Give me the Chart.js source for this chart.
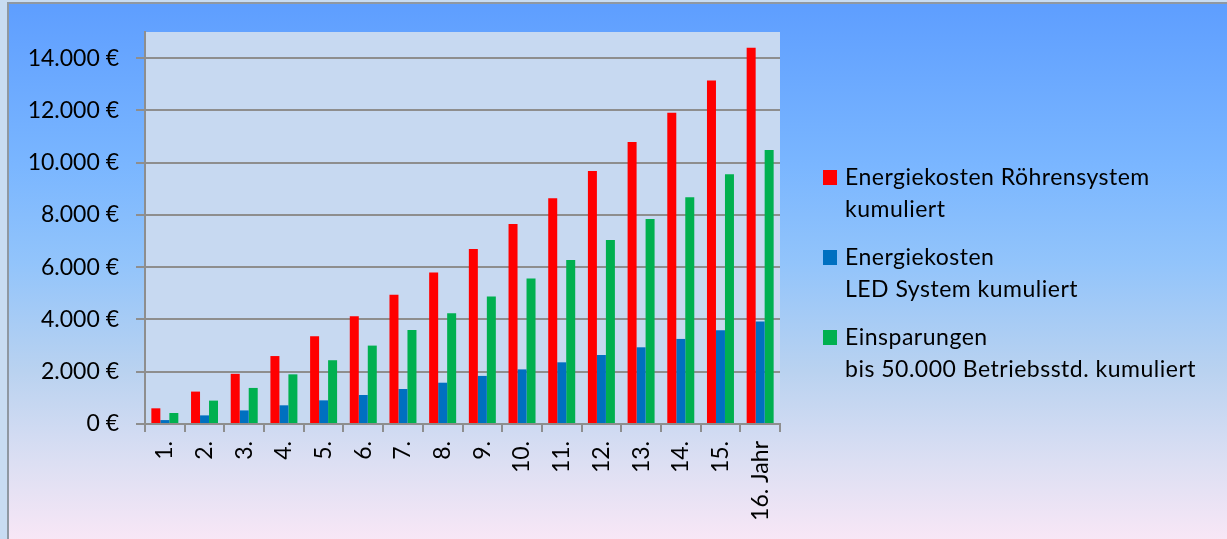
<!DOCTYPE html>
<html lang="de">
<head>
<meta charset="utf-8">
<script src="https://cdn.jsdelivr.net/npm/chart.js@4/dist/chart.umd.min.js"></script>
<style>
  html, body { margin: 0; padding: 0; width: 1227px; height: 539px; overflow: hidden; }
  body { background: #c8dcf2; position: relative; font-family: Lato, "Open Sans", sans-serif; }
  #frame {
    position: absolute; left: 7px; top: 2px; right: 0; bottom: -4px;
    border-top: 2px solid #8f98a2; border-left: 2px solid #8f98a2;
    background: linear-gradient(to bottom, #5e9eff 0%, #7ab6ff 30%, #92c4fb 48%, #b9d2f0 68%, #dcdff3 85%, #f9e7f6 100%);
  }
  #wrap { position: absolute; left: 0; top: 0; width: 1227px; height: 539px; }
  #legend { position: absolute; left: 823px; top: 160px; color: #000; font-size: 23px; letter-spacing: 0.5px; line-height: 32px; }
  .item { display: flex; align-items: flex-start; margin-bottom: 16px; }
  .swatch { width: 14px; height: 15px; margin-top: 10px; margin-right: 8px; flex: none; }
</style>
</head>
<body>
<div id="frame"></div>
<div id="wrap"><canvas id="chart" width="1227" height="539"></canvas></div>
<div id="legend"></div>
<script>
const categories = ["1.", "2.", "3.", "4.", "5.", "6.", "7.", "8.", "9.", "10.", "11.", "12.", "13.", "14.", "15.", "16. Jahr"];
const roehrenKosten = [600, 1240, 1920, 2600, 3360, 4120, 4950, 5800, 6700, 7650, 8640, 9680, 10790, 11910, 13140, 14400];
const ledKosten = [150, 330, 520, 715, 905, 1110, 1340, 1580, 1840, 2090, 2360, 2640, 2935, 3255, 3585, 3920];
const einsparungen = [420, 895, 1380, 1900, 2440, 3000, 3600, 4240, 4880, 5565, 6280, 7045, 7840, 8680, 9560, 10480];
const yTickValues = [0, 2000, 4000, 6000, 8000, 10000, 12000, 14000];
const seriesLabels = [
  ["Energiekosten Röhrensystem", "kumuliert"],
  ["Energiekosten", "LED System kumuliert"],
  ["Einsparungen", "bis 50.000 Betriebsstd. kumuliert"]
];
const seriesColors = ["#ff0000", "#0070c0", "#00b050"];

const plotBackground = {
  id: "plotBackground",
  beforeDraw(chart) {
    const { ctx, chartArea } = chart;
    ctx.save();
    ctx.fillStyle = "#c7d9f1";
    ctx.fillRect(chartArea.left, chartArea.top, chartArea.right - chartArea.left, chartArea.bottom - chartArea.top);
    ctx.restore();
  }
};

const fontFamily = "Lato, 'Open Sans', sans-serif";

const chart = new Chart(document.getElementById("chart"), {
  type: "bar",
  data: {
    labels: categories,
    datasets: [roehrenKosten, ledKosten, einsparungen].map((data, i) => ({
      label: seriesLabels[i].join(" "),
      data,
      backgroundColor: seriesColors[i],
      borderWidth: 0,
      barPercentage: 1,
      categoryPercentage: 0.68
    }))
  },
  options: {
    responsive: false,
    animation: false,
    devicePixelRatio: 1,
    layout: { padding: { left: 0, top: 32, right: 447, bottom: 0 } },
    scales: {
      x: {
        grid: { drawOnChartArea: false, color: "#8e8e8e", lineWidth: 2, tickLength: 8 },
        border: { color: "#8e8e8e", width: 2 },
        ticks: { color: "#000", font: { family: fontFamily, size: 23 }, minRotation: 90, maxRotation: 90, padding: 9, autoSkip: false },
        afterFit(scale) { scale.height = 115; }
      },
      y: {
        min: 0,
        max: 15000,
        grid: { color: "#8e8e8e", lineWidth: 2, tickLength: 9 },
        border: { color: "#8e8e8e", width: 2 },
        ticks: {
          color: "#000",
          font: { family: fontFamily, size: 23 },
          padding: 17,
          callback: (v) => (v === 0 ? "0 €" : v.toLocaleString("de-DE") + " €")
        },
        afterBuildTicks(scale) { scale.ticks = yTickValues.map((value) => ({ value })); },
        afterFit(scale) { scale.width = 145; }
      }
    },
    plugins: {
      legend: { display: false },
      tooltip: { enabled: false }
    }
  },
  plugins: [plotBackground]
});

const legendEl = document.getElementById("legend");
chart.data.datasets.forEach((ds, i) => {
  const item = document.createElement("div");
  item.className = "item";
  const sw = document.createElement("span");
  sw.className = "swatch";
  sw.style.background = ds.backgroundColor;
  const txt = document.createElement("div");
  txt.innerHTML = seriesLabels[i].join("<br>");
  item.appendChild(sw);
  item.appendChild(txt);
  legendEl.appendChild(item);
});
</script>
</body>
</html>
